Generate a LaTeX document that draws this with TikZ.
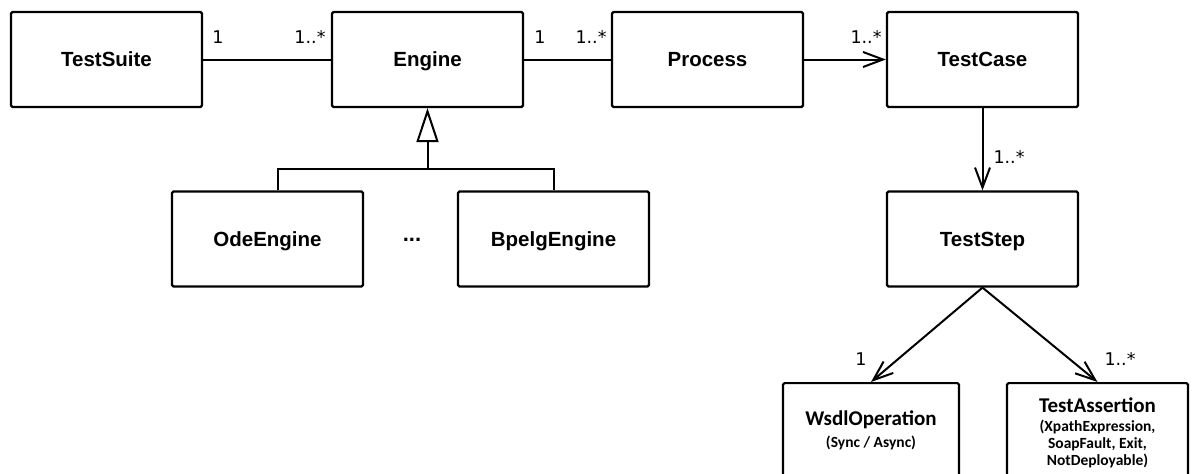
\documentclass[tikz,border=0pt]{standalone}
\usepackage{fontspec}
\setmainfont{Liberation Sans}
\newfontfamily\calibrifont{Carlito}
\newfontfamily\multfont{DejaVu Sans}
\usetikzlibrary{arrows.meta}
\tikzset{
  umlbox/.style={draw, line width=2.2pt, rounded corners=1.5pt, inner sep=0pt,
    minimum width=191pt, minimum height=95pt, text depth=0pt,
    font=\fontsize{20.5}{24}\selectfont\bfseries},
  mult/.style={inner sep=0pt, font=\fontsize{17.5}{20}\multfont},
  assoc/.style={line width=2pt},
  navig/.style={line width=2pt, -{Straight Barb[length=20pt,width=15pt,line width=2pt]}},
  inherit/.style={line width=2pt, -{Triangle[open,length=34pt,width=22pt,line width=2pt]}},
  title/.style={inner sep=0pt, font=\fontsize{21}{24}\calibrifont\bfseries},
  sub/.style={inner sep=0pt, font=\fontsize{15.5}{17}\calibrifont\bfseries}
}
\begin{document}
\begin{tikzpicture}[x=1pt,y=-1pt]
\useasboundingbox (0,0) rectangle (1192,474);
% top row
\node[umlbox] (suite) at (106.5,59.5) {TestSuite};
\node[umlbox] (engine) at (427.5,59.5) {Engine};
\node[umlbox] (process) at (707.5,59.5) {Process};
\node[umlbox] (case) at (982.5,59.5) {TestCase};
% engines
\node[umlbox] (ode) at (267.5,239) {OdeEngine};
\node[umlbox] (bpelg) at (553.5,239) {BpelgEngine};
\node[font=\fontsize{22}{24}\selectfont\bfseries] (dots) at (412,240) {...};
% steps
\node[umlbox] (step) at (982.5,239) {TestStep};
\node[umlbox, minimum width=176pt, minimum height=100pt, anchor=north] (wsdl) at (871,382) {};
\node[umlbox, minimum width=181pt, minimum height=100pt, anchor=north] (assert) at (1097.5,382) {};
\node[title] (wsdlname) at (871,420) {WsdlOperation};
\node[sub] (wsdlmode) at (871,443) {(Sync / Async)};
\node[title] (assertname) at (1097.5,405) {TestAssertion};
\node[sub] (assertA) at (1097.5,427) {(XpathExpression,};
\node[sub] (assertB) at (1097.5,444) {SoapFault, Exit,};
\node[sub] (assertC) at (1097.5,461) {NotDeployable)};

% connectors
\draw[assoc] (suite.east) -- (engine.west);
\draw[assoc] (engine.east) -- (process.west);
\draw[navig] (process.east) -- (case.west);
\draw[navig] (case.south) -- (step.north);
\draw[navig] (step.south) -- (wsdl.north);
\draw[navig] (step.south) -- (assert.north);
\coordinate (fork) at (427.5,169);
\draw[inherit] (fork) -- (engine.south);
\draw[assoc] ([xshift=10pt]ode.north) |- (fork) -| (bpelg.north);

% multiplicities
\node[mult] (m1) at (218,37) {1};
\node[mult] (m2) at (310,37) {1..*};
\node[mult] (m3) at (540,37) {1};
\node[mult] (m4) at (591,37) {1..*};
\node[mult] (m5) at (866,37) {1..*};
\node[mult] (m6) at (1009,157) {1..*};
\node[mult] (m7) at (861,359) {1};
\node[mult] (m8) at (1120,359) {1..*};
\end{tikzpicture}
\end{document}
